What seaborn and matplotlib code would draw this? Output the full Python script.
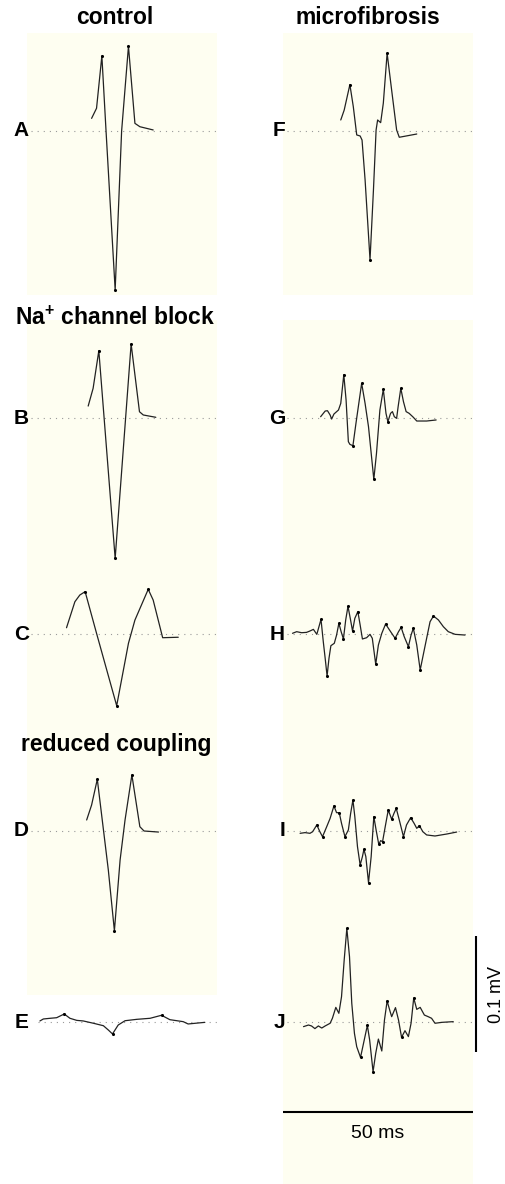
import numpy as np
import pandas as pd
import matplotlib
matplotlib.use("Agg")
import matplotlib.pyplot as plt
import seaborn as sns
from matplotlib.patches import Rectangle

sns.set_style("white")
plt.rcParams['font.family'] = ['Liberation Sans', 'DejaVu Sans']
plt.rcParams['text.color'] = 'black'
plt.rcParams['mathtext.fontset'] = 'custom'
plt.rcParams['mathtext.rm'] = 'Liberation Sans'
plt.rcParams['mathtext.bf'] = 'Liberation Sans:bold'

# ---------------- data: time (ms) and potential (uV) ----------------
tA = [17.0, 18.3, 19.7, 20.8, 23.2, 24.9, 26.7, 28.4, 29.7, 33.2]
vA = [10.9, 19.6, 64.7, 0, -137, 0, 73, 6.6, 3.7, 0.9]
dA = [2, 4, 6]

tB = [16.1, 17.4, 18.9, 23.2, 27.4, 29.6, 30.6, 33.9]
vB = [10.3, 25.6, 58, -121, 63.8, 5.4, 2.6, 0.6]
dB = [2, 3, 4]

tC = [10.4, 12.6, 13.9, 15.3, 18.3, 23.6, 26.7, 28.4, 31.9, 33.2, 35.7, 39.8]
vC = [5.4, 27.8, 33.6, 36.5, 0.6, -61.8, -8, 12, 38.5, 29.3, -3.2, -2.8]
dC = [3, 5, 8]

tD = [15.7, 17.0, 18.5, 21.4, 23.0, 24.5, 25.8, 27.6, 29.7, 30.8, 34.6]
vD = [9.5, 22.4, 44.6, -33.6, -86, -25, 9.5, 48.3, 3.7, 0, -0.9]
dD = [2, 4, 7]

tE = [3.4, 4.3, 6.1, 7.8, 9.8, 11.3, 13.1, 14.8, 17.5, 20.1, 21.4, 22.5, 24.0,
      25.8, 28.9, 32.4, 35.4, 37.6, 41.1, 42.4, 46.8]
vE = [0.9, 2.6, 3.2, 3.7, 6.9, 3.2, 1.4, 0.9, -1.1, -3.2, -6.9, -10.3, -2.6,
      1.1, 2.3, 3.2, 5.8, 2.0, 0.3, -1.7, -0.3]
dE = [4, 11, 16]

tF = [15.2, 16.1, 17.6, 18.5, 19.4, 20.3, 20.8, 21.6, 22.9, 23.8, 24.5, 24.9,
      25.7, 26.4, 27.4, 28.6, 29.9, 30.6, 35.2]
vF = [9.5, 18, 40, 21, -3.4, -4.3, -7.8, -42, -111, -51, 0.9, 9.5,
      7.2, 24, 67, 35, 0.9, -5.4, -2.6]
dF = [2, 8, 14]

tG = [9.9, 11.1, 11.7, 12.4, 12.8, 13.4, 14.6, 15.2, 16.0, 16.6, 17.2, 17.6,
      18.4, 19.2, 20.7, 21.6, 22.5, 23.9, 24.6, 25.5, 26.4, 27.1, 27.6, 28.3,
      28.8, 29.3, 29.9, 30.3, 31.0, 31.7, 32.4, 33.2, 34.3, 35.2, 37.8, 40.3]
vG = [1.1, 6.0, 6.3, 2.6, -0.9, 3.4, 6.9, 12.6, 37.4, 15.5, -20.4, -22.7,
      -23.9, -4.6, 29.9, 12.6, -7.5, -52.9, -30.5, 6.9, 24.7, 4.0, -3.2, 4.0,
      5.5, 1.1, -0.3, 9.8, 25.6, 14.1, 5.5, 4.0, 0.6, -2.6, -2.6, -1.7]
dG = [8, 12, 14, 17, 20, 22, 28]

tH = [2.5, 3.6, 4.9, 6.2, 7.1, 8.0, 8.9, 10.0, 10.6, 11.1, 11.6, 12.1, 12.6,
      13.5, 14.1, 14.7, 15.3, 15.9, 16.5, 17.1, 17.7, 18.3, 18.9, 19.7, 20.3,
      20.9, 22.0, 22.9, 23.5, 24.4, 25.1, 26.0, 27.0, 28.2, 29.5, 30.4, 31.1,
      31.9, 33.0, 33.7, 34.3, 35.2, 36.1, 36.9, 37.8, 38.7, 39.6, 40.9, 42.2,
      43.5, 45.3, 47.9]
vH = [0.6, 2.0, 1.1, 1.4, 2.6, 4.0, -0.3, 12.6, -6.6, -21.0, -36.2, -21.0, -10.1,
      -8.0, -0.9, 9.2, 2.0, -4.3, 12.1, 23.9, 13.5, 2.6, 13.5, 19.3, 7.8,
      -4.3, -3.2, -0.3, -3.7, -26.1, -9.5, 0.6, 8.6, 2.6, -3.7, 2.0, 5.7,
      -2.3, -10.9, -0.9, 4.9, -9.5, -31.0, -18.1, -3.7, 10.6, 15.5, 12.1, 6.3,
      2.0, -0.3, -0.9]
dH = [7, 10, 15, 17, 19, 21, 23, 29, 32, 34, 36, 38, 40, 42, 46]

tI = [4.5, 5.8, 7.1, 7.8, 8.9, 9.7, 10.4, 11.5, 12.4, 13.4, 14.1, 14.8, 15.4,
      16.3, 17.2, 17.8, 18.4, 18.9, 19.6, 20.3, 20.9, 21.3, 21.8, 22.5, 23.2,
      23.9, 24.5, 25.2, 25.7, 26.2, 26.9, 27.7, 28.6, 29.2, 29.8, 30.6, 31.7,
      32.5, 33.6, 34.5, 35.2, 35.9, 36.8, 37.8, 40.0, 43.1, 45.7]
vI = [-2.0, -1.4, -2.0, -0.6, 5.2, -0.6, -4.9, 3.7, 10.9, 21.6, 15.8, 15.8, 6.6,
      -4.9, 0.9, 15.2, 26.7, 12.4, -13.5, -29.3, -22.1, -15.8, -22.1, -44.5, -22.1,
      12.4, 0.9, -11.5, -8.3, -9.2, 3.7, 18.1, 10.1, 15.2, 19.5, 9.5, -4.9,
      5.2, 11.5, 6.6, 2.3, 4.6, -0.6, -3.4, -4.3, -2.6, -0.9]
dI = [4, 6, 9, 11, 13, 16, 19, 21, 23, 25, 27, 29, 31, 32, 34, 36, 38, 41]

tJ = [5.4, 6.7, 7.5, 8.4, 9.3, 10.2, 11.1, 12.4, 13.0, 13.9, 14.7, 15.4, 16.1,
      16.8, 17.5, 18.1, 18.8, 19.4, 20.4, 21.1, 22.2, 22.8, 23.7, 24.4, 25.1,
      26.0, 26.7, 27.4, 28.2, 28.6, 29.6, 30.4, 31.2, 32.1, 33.0, 33.7, 34.4,
      35.2, 36.1, 37.2, 38.2, 39.1, 40.0, 41.8, 44.8]
vJ = [-4.0, -2.6, -3.4, -5.7, -3.4, -5.2, -3.4, -1.1, 3.2, 12.6, 7.5, 21.8, 53.4,
      80.7, 56.3, 16.1, -9.8, -21.3, -30.5, -19.8, -2.9, -15.5, -42.8, -27.0, -14.7,
      -25.0, 1.7, 18.1, 8.9, 4.6, 12.4, 1.7, -13.2, -7.5, -12.6, -1.1, 20.7,
      10.9, 12.6, 6.0, 4.6, 3.2, -1.1, -0.3, 0.3]
dJ = [13, 18, 20, 22, 27, 32, 36]

titles = ["control", "microfibrosis", r"Na$^{\mathbf{+}}$ channel block", "reduced coupling"]
scale_time_ms = 50
scale_volt_uV = 100
scale_labels = ["50 ms", "0.1 mV"]

# ---------------- layout (pixels) ----------------
W, H = 505, 1184
fig = plt.figure(figsize=(W / 100, H / 100), dpi=100)
BG = '#fefef1'
COLW = 190
LEFT_X, RIGHT_X = 27, 283
PX_PER_UV = 1.16
HALF = 150  # uV half range of each trace axes


def fx(px):
    return px / W


def fy(py):
    return 1 - py / H


# background panels
for (x, y0, y1) in [(LEFT_X, 33, 295), (LEFT_X, 320, 995), (RIGHT_X, 33, 295), (RIGHT_X, 320, 1184)]:
    fig.patches.append(Rectangle((fx(x), fy(y1)), COLW / W, (y1 - y0) / H,
                                 transform=fig.transFigure, facecolor=BG,
                                 edgecolor='none', zorder=-5))

traces = [
    ("A", tA, vA, dA, LEFT_X, 131),
    ("B", tB, vB, dB, LEFT_X, 418),
    ("C", tC, vC, dC, LEFT_X, 634),
    ("D", tD, vD, dD, LEFT_X, 831),
    ("E", tE, vE, dE, LEFT_X, 1022),
    ("F", tF, vF, dF, RIGHT_X, 131),
    ("G", tG, vG, dG, RIGHT_X, 418),
    ("H", tH, vH, dH, RIGHT_X, 634),
    ("I", tI, vI, dI, RIGHT_X, 831),
    ("J", tJ, vJ, dJ, RIGHT_X, 1022),
]

axes = {}
for name, t, v, dots, x0, base in traces:
    hpx = HALF * PX_PER_UV
    ax = fig.add_axes([fx(x0), fy(base + hpx), COLW / W, 2 * hpx / H])
    ax.set_zorder(1)
    ax.set_xlim(0, 50)
    ax.set_ylim(-HALF, HALF)
    ax.patch.set_alpha(0)
    ax.axis('off')
    xmin = 0.06 if name == "E" else 0.02
    ax.axhline(0, xmin=xmin, xmax=1, color='#9a9a9a', lw=0.8,
               ls=(0, (1, 4.5)), zorder=1)
    df = pd.DataFrame({"t": t, "v": v})
    sns.lineplot(data=df, x="t", y="v", ax=ax, color='#222222', lw=0.9,
                 sort=False, estimator=None, zorder=3)
    sns.scatterplot(data=df.iloc[dots], x="t", y="v", ax=ax, color='black',
                    s=5, linewidth=0, zorder=4)
    ax.set_xlabel("")
    ax.set_ylabel("")
    fig.text(fx(x0 + 2), fy(base), name, ha='right', va='center',
             fontsize=15, fontweight='bold', zorder=5)
    axes[name] = ax

# titles
fig.text(fx(115), fy(18), titles[0], ha='center', va='center', fontsize=16.5, fontweight='bold')
fig.text(fx(368), fy(18), titles[1], ha='center', va='center', fontsize=16.5, fontweight='bold')
fig.text(fx(115), fy(318), titles[2], ha='center', va='center', fontsize=16.5, fontweight='bold')
fig.text(fx(116), fy(744), titles[3], ha='center', va='center', fontsize=16.5, fontweight='bold')

# scale bars on J axes
axJ = axes["J"]
axJ.plot([0, scale_time_ms], [-78, -78], color='black', lw=1.5, clip_on=False,
         solid_capstyle='butt')
axJ.plot([50.8, 50.8], [-26, -26 + scale_volt_uV], color='black', lw=1.5,
         clip_on=False, solid_capstyle='butt')
axJ.text(scale_time_ms / 2, -96, scale_labels[0], ha='center', va='center', fontsize=14)
axJ.text(56.2, 24, scale_labels[1], ha='center', va='center', fontsize=13,
         rotation=90, clip_on=False)

fig.savefig("out.png", dpi=100)
